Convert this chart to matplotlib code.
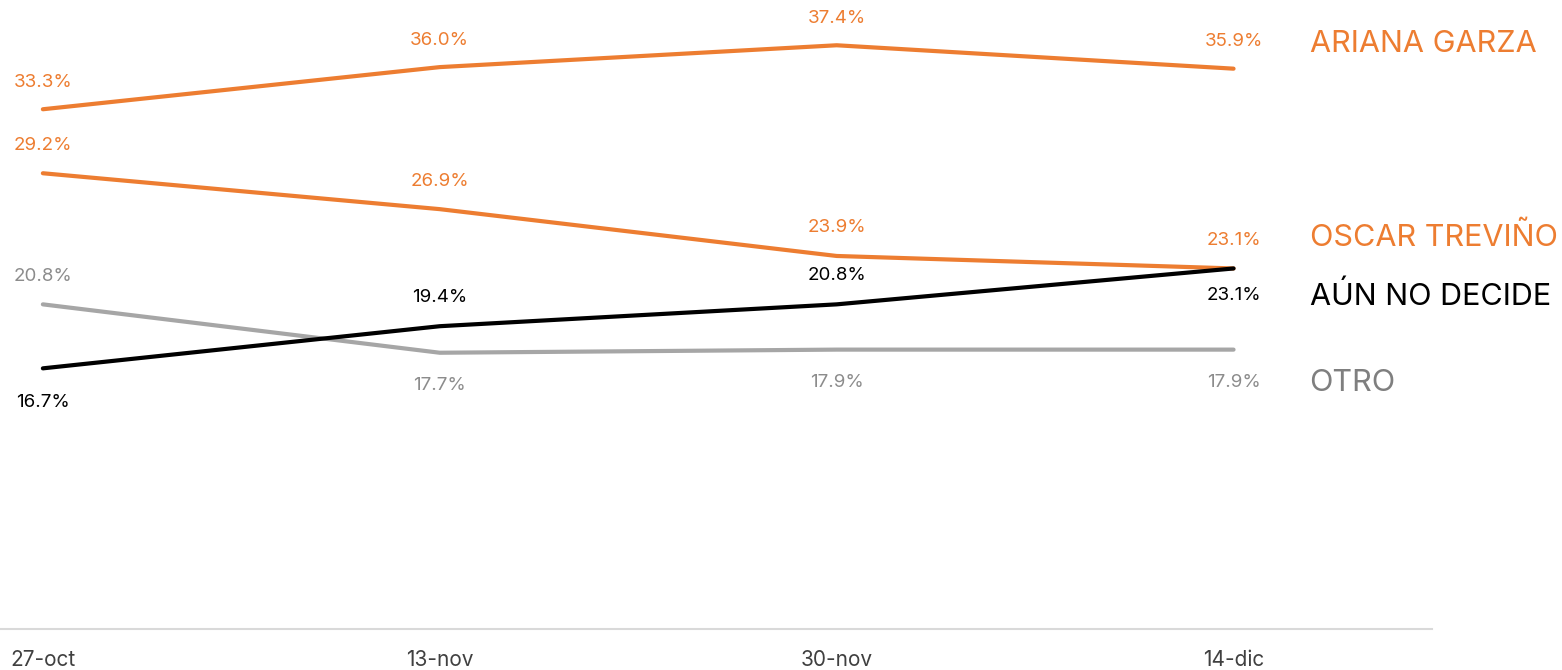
import matplotlib
matplotlib.use('Agg')
from matplotlib import pyplot as plt

plt.rcParams['font.family'] = ['Inter', 'DejaVu Sans']

fechas = ['27-oct', '13-nov', '30-nov', '14-dic']
ariana = [33.3, 36.0, 37.4, 35.9]
oscar = [29.2, 26.9, 23.9, 23.1]
aun_no = [16.7, 19.4, 20.8, 23.1]
otro = [20.8, 17.7, 17.9, 17.9]

naranja = '#ED7D31'
gris = '#A6A6A6'

# (nombre, valores, color linea, color texto, desplazamiento etiquetas en px, desplazamiento nombre)
series = [
    ('ARIANA GARZA', ariana, naranja, naranja, [27, 27, 27, 27], 25),
    ('OSCAR TREVIÑO', oscar, naranja, naranja, [28, 28, 28, 28], 31),
    ('OTRO', otro, gris, '#8C8C8C', [28, -33, -33, -33], -33),
    ('AÚN NO DECIDE', aun_no, 'black', 'black', [-34, 29, 29, -27], -28),
]
nombre_color = {'ARIANA GARZA': naranja, 'OSCAR TREVIÑO': naranja,
                'AÚN NO DECIDE': 'black', 'OTRO': '#7F7F7F'}

fig = plt.figure(figsize=(15.62, 6.70), dpi=100)
ax = fig.add_axes([0, 1 - 629 / 670, 1432 / 1562, 629 / 670])

x = list(range(len(fechas)))
for nombre, vals, c_linea, c_txt, offs, off_nombre in series:
    ax.plot(x, vals, color=c_linea, lw=3, solid_capstyle='round')
    for xi, v, off in zip(x, vals, offs):
        ax.annotate('{:.1f}%'.format(v), (xi, v), xytext=(0, off),
                    textcoords='offset pixels', ha='center', va='center',
                    fontsize=13.5, color=c_txt, annotation_clip=False)
    ax.annotate(nombre, (x[-1], vals[-1]), xytext=(76, off_nombre),
                textcoords='offset pixels', ha='left', va='center',
                fontsize=22, color=nombre_color[nombre], annotation_clip=False)

ax.set_xlim(-0.108, 3.5)
ax.set_ylim(0, 40.3)
ax.set_xticks(x)
ax.set_xticklabels(fechas, fontsize=15, color='#404040')
ax.set_yticks([])
ax.tick_params(axis='x', length=0, pad=15)
for s in ['top', 'right', 'left']:
    ax.spines[s].set_visible(False)
ax.spines['bottom'].set_color('#D9D9D9')
ax.spines['bottom'].set_linewidth(1.5)

fig.savefig('out.png', dpi=100)
